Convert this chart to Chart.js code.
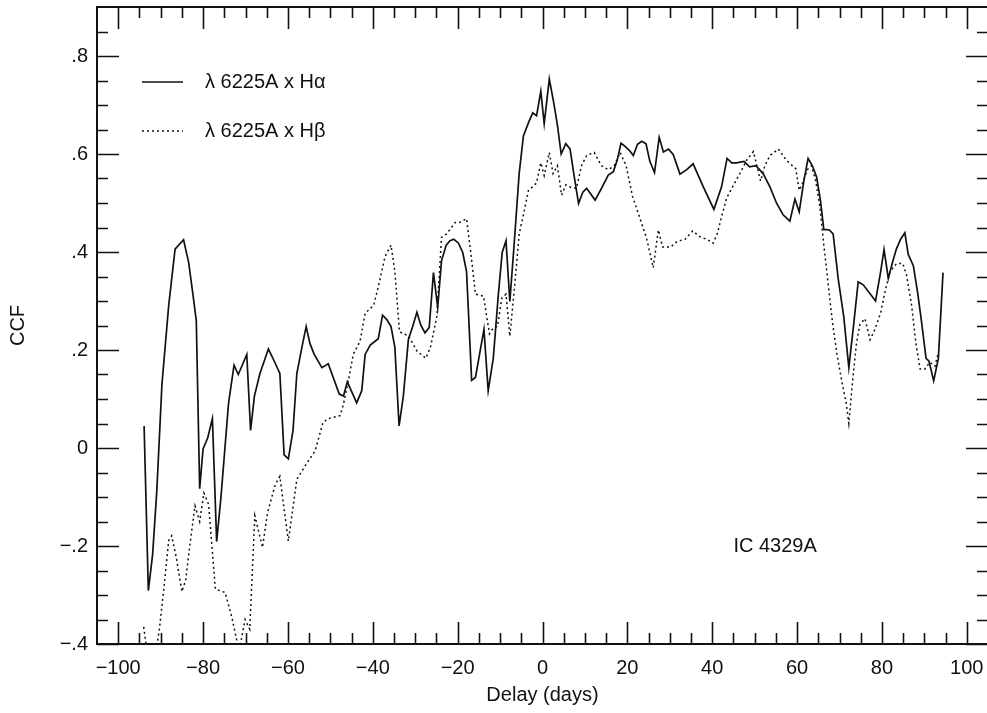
<!DOCTYPE html>
<html>
<head>
<meta charset="utf-8">
<script src="https://cdn.jsdelivr.net/npm/chart.js@4.4.1/dist/chart.umd.min.js"></script>
<style>
  html, body { margin: 0; padding: 0; background: #fff; overflow: hidden; }
</style>
</head>
<body>
<canvas id="ccf" width="992" height="713"></canvas>
<script>
// CCF values (delay in days, CCF)
const haDelay = [-93.9, -92.9, -91.9, -90.9, -89.7, -88.1, -86.6, -84.6, -83.4, -82.4, -81.6, -80.8, -80.0, -78.9, -77.8, -76.8, -75.8, -74.0, -72.7, -71.7,
  -69.7, -68.8, -67.9, -66.6, -64.6, -63.1, -61.9, -60.9, -59.9, -58.8, -57.9, -56.7, -55.7, -54.8, -53.8, -52.0, -50.5, -47.9, -46.9, -46.0,
  -43.8, -42.6, -41.8, -40.6, -38.7, -37.7, -36.7, -35.7, -34.8, -33.8, -32.8, -31.6, -30.6, -29.6, -28.7, -27.7, -26.7, -25.7, -24.7, -23.8,
  -22.7, -21.8, -20.9, -19.8, -18.8, -17.9, -16.7, -15.8, -13.8, -12.8, -11.6, -10.4, -9.5, -8.6, -7.7, -6.7, -5.5, -4.5, -3.3, -2.3,
  -1.4, -0.4, 0.4, 1.6, 2.6, 3.5, 4.4, 5.5, 6.5, 7.5, 8.5, 9.5, 10.4, 12.4, 13.9, 15.5, 16.7, 17.6, 18.5, 19.4,
  20.5, 21.4, 22.4, 23.4, 24.4, 25.3, 26.4, 27.5, 28.5, 29.7, 30.8, 32.4, 34.0, 35.5, 37.9, 40.4, 42.2, 43.5, 44.6, 45.7,
  47.5, 48.8, 50.3, 52.0, 53.6, 55.2, 56.7, 58.3, 59.5, 60.5, 61.6, 62.6, 63.6, 64.6, 65.5, 66.3, 67.6, 68.5, 69.7, 71.0,
  72.2, 73.4, 74.4, 75.6, 77.2, 78.5, 79.7, 80.5, 81.5, 82.5, 83.4, 84.4, 85.4, 86.2, 87.4, 88.4, 89.3, 90.4, 91.1, 92.2,
  93.3, 94.4];
const haCcf = [0.045, -0.291, -0.218, -0.087, 0.129, 0.291, 0.406, 0.425, 0.379, 0.314, 0.260, -0.083, -0.002, 0.021, 0.060, -0.191, -0.102, 0.091, 0.169, 0.150,
  0.191, 0.036, 0.106, 0.152, 0.202, 0.175, 0.152, -0.014, -0.022, 0.036, 0.152, 0.206, 0.248, 0.213, 0.191, 0.164, 0.172, 0.110, 0.106, 0.135,
  0.092, 0.117, 0.191, 0.210, 0.223, 0.271, 0.262, 0.248, 0.206, 0.045, 0.106, 0.222, 0.248, 0.277, 0.251, 0.235, 0.246, 0.358, 0.287, 0.382,
  0.414, 0.423, 0.426, 0.418, 0.399, 0.360, 0.138, 0.144, 0.242, 0.117, 0.183, 0.314, 0.399, 0.423, 0.299, 0.414, 0.560, 0.637, 0.664, 0.684,
  0.678, 0.728, 0.662, 0.753, 0.707, 0.660, 0.600, 0.621, 0.610, 0.553, 0.499, 0.522, 0.530, 0.506, 0.530, 0.557, 0.564, 0.587, 0.622, 0.616,
  0.607, 0.597, 0.620, 0.626, 0.621, 0.585, 0.562, 0.634, 0.604, 0.610, 0.599, 0.559, 0.568, 0.580, 0.533, 0.487, 0.533, 0.591, 0.582, 0.582,
  0.585, 0.574, 0.576, 0.560, 0.533, 0.499, 0.476, 0.463, 0.508, 0.482, 0.545, 0.591, 0.576, 0.553, 0.506, 0.446, 0.445, 0.437, 0.345, 0.268,
  0.164, 0.257, 0.339, 0.333, 0.315, 0.300, 0.360, 0.405, 0.346, 0.379, 0.406, 0.426, 0.439, 0.395, 0.372, 0.318, 0.260, 0.183, 0.177, 0.137,
  0.183, 0.358];

const hbDelay = [-94.0, -92.2, -90.3, -89.3, -88.1, -87.4, -86.3, -85.0, -84.1, -83.2, -81.9, -80.8, -79.8, -78.7, -77.1, -74.8, -73.2, -72.0, -71.4, -70.1,
  -69.0, -67.8, -66.0, -64.8, -63.0, -61.9, -59.9, -57.9, -55.7, -53.6, -51.7, -50.1, -47.7, -46.9, -45.7, -44.6, -43.0, -41.8, -39.8, -38.7,
  -37.1, -35.7, -34.8, -33.7, -31.6, -29.6, -27.5, -26.4, -24.9, -23.8, -22.6, -20.6, -19.6, -17.9, -16.8, -15.8, -13.9, -12.5, -11.6, -10.6,
  -9.6, -8.6, -7.7, -6.5, -5.5, -4.5, -3.3, -2.3, -1.4, -0.4, 0.4, 1.6, 2.5, 3.5, 4.5, 5.5, 6.9, 8.0, 9.2, 10.4,
  12.2, 13.9, 15.5, 16.9, 18.3, 19.7, 21.2, 23.0, 24.5, 26.1, 27.3, 28.3, 30.2, 31.8, 33.6, 35.4, 37.1, 38.7, 40.2, 41.2,
  42.2, 43.4, 44.8, 46.5, 48.1, 49.7, 51.4, 52.4, 53.6, 55.6, 57.5, 59.7, 60.5, 61.5, 62.4, 63.4, 64.4, 65.4, 66.3, 67.3,
  68.3, 69.4, 70.7, 71.6, 72.2, 73.0, 74.0, 74.8, 76.0, 77.2, 78.3, 79.7, 80.7, 81.9, 83.4, 84.9, 85.8, 87.0, 88.0, 89.0,
  90.1, 91.3, 92.5, 93.2];
const hbCcf = [-0.365, -0.48, -0.37, -0.291, -0.189, -0.179, -0.224, -0.293, -0.27, -0.204, -0.118, -0.150, -0.092, -0.115, -0.288, -0.295, -0.346, -0.395, -0.41, -0.350,
  -0.370, -0.138, -0.203, -0.132, -0.075, -0.058, -0.190, -0.064, -0.033, -0.006, 0.053, 0.061, 0.066, 0.090, 0.140, 0.191, 0.218, 0.275, 0.291, 0.329,
  0.391, 0.414, 0.360, 0.237, 0.229, 0.198, 0.183, 0.206, 0.268, 0.430, 0.437, 0.460, 0.460, 0.468, 0.391, 0.314, 0.310, 0.233, 0.245, 0.248,
  0.306, 0.314, 0.228, 0.337, 0.437, 0.476, 0.526, 0.533, 0.541, 0.582, 0.556, 0.603, 0.560, 0.576, 0.516, 0.537, 0.531, 0.530, 0.576, 0.597,
  0.603, 0.576, 0.568, 0.576, 0.603, 0.576, 0.514, 0.468, 0.429, 0.368, 0.445, 0.410, 0.410, 0.422, 0.426, 0.443, 0.431, 0.426, 0.418, 0.437,
  0.472, 0.510, 0.533, 0.560, 0.587, 0.605, 0.545, 0.576, 0.597, 0.610, 0.587, 0.570, 0.526, 0.545, 0.568, 0.576, 0.545, 0.491, 0.414, 0.337,
  0.260, 0.191, 0.129, 0.091, 0.050, 0.129, 0.214, 0.252, 0.264, 0.221, 0.241, 0.276, 0.318, 0.360, 0.376, 0.377, 0.353, 0.291, 0.214, 0.161,
  0.161, 0.175, 0.167, 0.191];

const xTickLabels = [-100, -80, -60, -40, -20, 0, 20, 40, 60, 80, 100];
const yTickLabels = [-0.4, -0.2, 0, 0.2, 0.4, 0.6, 0.8];
const seriesNames = ['\u03bb 6225A x H\u03b1', '\u03bb 6225A x H\u03b2'];
const objectName = 'IC 4329A';

const FONT = '"Liberation Sans", Arial, Helvetica, sans-serif';
const toPoints = (xs, ys) => xs.map((v, i) => ({ x: v, y: ys[i] }));
const minus = s => s.replace('-', '\u2212');
const fmtY = v => v === 0 ? '0' : minus(v.toFixed(1).replace('0.', '.'));

// frame with inward ticks on all four sides, plus legend and object label
const frameTicks = {
  id: 'frameTicks',
  afterDraw(chart) {
    const { ctx, chartArea: a, scales: { x, y } } = chart;
    ctx.save();
    ctx.strokeStyle = '#111';
    ctx.lineWidth = 2;
    ctx.strokeRect(a.left, a.top, a.right - a.left, a.bottom - a.top);
    ctx.lineWidth = 1.6;
    ctx.beginPath();
    for (let v = -100; v <= 100; v += 5) {
      const px = Math.round(x.getPixelForValue(v)) + 0.5;
      const len = v % 20 === 0 ? 22 : 11;
      ctx.moveTo(px, a.bottom); ctx.lineTo(px, a.bottom - len);
      ctx.moveTo(px, a.top); ctx.lineTo(px, a.top + len);
    }
    for (let i = -8; i <= 17; i++) {
      const py = Math.round(y.getPixelForValue(i * 0.05)) + 0.5;
      const len = i % 4 === 0 ? 22 : 11;
      ctx.moveTo(a.left, py); ctx.lineTo(a.left + len, py);
      ctx.moveTo(a.right, py); ctx.lineTo(a.right - len, py);
    }
    ctx.stroke();

    // legend
    ctx.font = '20px ' + FONT;
    ctx.fillStyle = '#111';
    ctx.textBaseline = 'middle';
    chart.data.datasets.forEach((ds, i) => {
      const ly = a.top + 75 + i * 49;
      ctx.beginPath();
      ctx.lineWidth = ds.borderWidth;
      ctx.setLineDash(ds.borderDash || []);
      ctx.moveTo(a.left + 45, ly); ctx.lineTo(a.left + 86, ly);
      ctx.stroke();
      ctx.setLineDash([]);
      ctx.fillText(ds.label, a.left + 108, ly);
    });

    ctx.fillText(objectName, x.getPixelForValue(45), y.getPixelForValue(-0.2));
    ctx.restore();
  }
};

new Chart(document.getElementById('ccf'), {
  type: 'line',
  data: {
    datasets: [
      { label: seriesNames[0], data: toPoints(haDelay, haCcf), borderColor: '#111', borderWidth: 1.7, pointRadius: 0, fill: false, tension: 0 },
      { label: seriesNames[1], data: toPoints(hbDelay, hbCcf), borderColor: '#111', borderWidth: 1.5, borderDash: [2, 3], pointRadius: 0, fill: false, tension: 0 }
    ]
  },
  options: {
    responsive: false,
    animation: false,
    layout: { padding: { top: 7, right: 4, left: 0, bottom: 0 } },
    plugins: { legend: { display: false }, tooltip: { enabled: false } },
    scales: {
      x: {
        type: 'linear', min: -105, max: 105,
        afterBuildTicks: s => { s.ticks = xTickLabels.map(v => ({ value: v })); },
        afterFit: s => { s.height = 69; s.paddingLeft = 0; s.paddingRight = 0; },
        grid: { display: false, drawTicks: false },
        border: { display: false },
        ticks: { color: '#111', font: { family: FONT, size: 20 }, padding: 12, maxRotation: 0, autoSkip: false,
          callback: v => minus(String(v)) },
        title: { display: true, text: 'Delay (days)', color: '#111', font: { family: FONT, size: 20 }, padding: { bottom: 6 } }
      },
      y: {
        min: -0.4, max: 0.9,
        afterBuildTicks: s => { s.ticks = yTickLabels.map(v => ({ value: v })); },
        afterFit: s => { s.width = 97; s.paddingTop = 0; s.paddingBottom = 0; },
        grid: { display: false, drawTicks: false },
        border: { display: false },
        ticks: { color: '#111', font: { family: FONT, size: 20 }, padding: 9, callback: v => fmtY(v) },
        title: { display: true, text: 'CCF', color: '#111', font: { family: FONT, size: 20 }, padding: { top: 6 } }
      }
    }
  },
  plugins: [frameTicks]
});
</script>
</body>
</html>
